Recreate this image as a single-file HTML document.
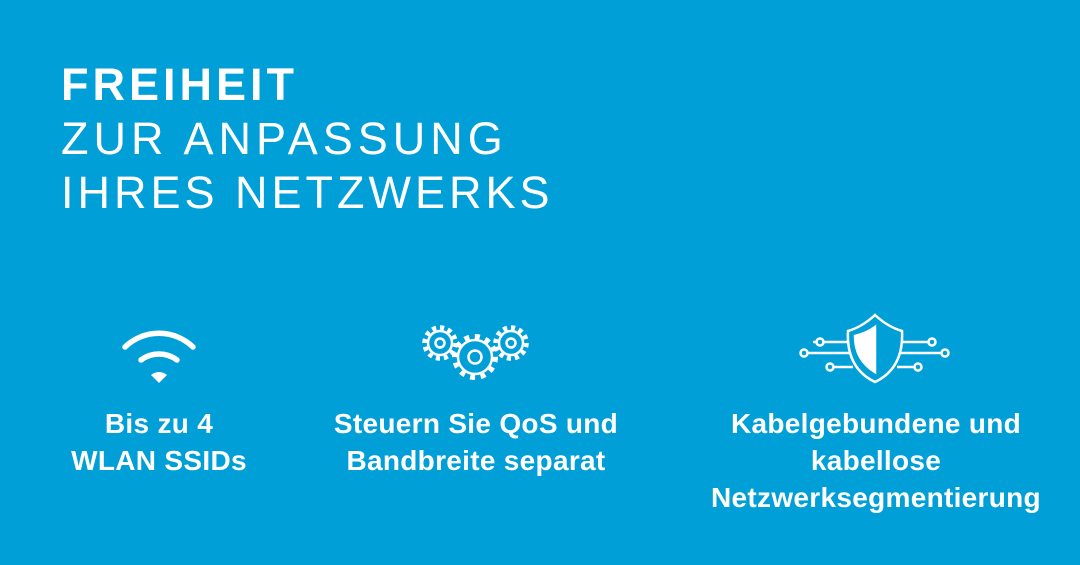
<!DOCTYPE html>
<html><head><meta charset="utf-8"><style>
body{margin:0;width:1080px;height:565px;background:#009fd8;overflow:hidden;position:relative;font-family:"Liberation Sans",sans-serif;color:#fff}
.t{position:absolute;left:61px;font-size:45px;letter-spacing:4.8px;line-height:1}
.l{position:absolute;font-weight:bold;font-size:28px;letter-spacing:0.3px;text-align:center;line-height:37px;width:400px}
</style></head><body>
<div class="t" style="top:62px;font-weight:bold;letter-spacing:4px">FREIHEIT</div>
<div class="t" style="top:116px;letter-spacing:5px">ZUR ANPASSUNG</div>
<div class="t" style="top:170px;letter-spacing:4px">IHRES NETZWERKS</div>
<div class="l" style="left:-41px;top:405px">Bis zu 4<br>WLAN SSIDs</div>
<div class="l" style="left:276px;top:405px">Steuern Sie QoS und<br>Bandbreite separat</div>
<div class="l" style="left:676px;top:405px">Kabelgebundene und<br>kabellose<br>Netzwerksegmentierung</div>
<svg width="1080" height="565" style="position:absolute;left:0;top:0" fill="none" stroke="#fff">
<path d="M125 347 A49 49 0 0 1 193 347" stroke-width="5.5" stroke-linecap="round"/>
<path d="M141 360 A30 30 0 0 1 177 360" stroke-width="5.5" stroke-linecap="round"/>
<path d="M159 383 L151 375 A12 12 0 0 1 167 375 Z" fill="#fff" stroke="none"/>
<g stroke-width="2.5">
<circle cx="440" cy="343" r="12"/><circle cx="440" cy="343" r="15.5" stroke-width="4.5" stroke-dasharray="4.2 3.9"/><circle cx="440" cy="343" r="4.5"/>
<circle cx="511" cy="343" r="12"/><circle cx="511" cy="343" r="15.5" stroke-width="4.5" stroke-dasharray="4.2 3.9"/><circle cx="511" cy="343" r="4.5"/>
<circle cx="475" cy="357" r="17" fill="#009fd8"/><circle cx="475" cy="357" r="20.5" stroke-width="5" stroke-dasharray="5 5.7"/><circle cx="475" cy="357" r="6.5"/>
</g>
<g stroke-width="2.5">
<path d="M875 315 Q862 327 848 331 Q846 368 875 382 Q904 368 902 331 Q888 327 875 315 Z"/>
<path d="M875 327 L875 372 Q855 360 855 336 Q867 333 875 327 Z" fill="#fff"/>
<line x1="813" y1="342" x2="848" y2="342"/><circle cx="820" cy="342" r="3.5" fill="#009fd8"/>
<line x1="808" y1="353" x2="849" y2="353"/><circle cx="804" cy="353" r="3.5"/>
<line x1="834" y1="367" x2="853" y2="367"/><circle cx="830" cy="367" r="3.5"/>
<line x1="902" y1="342" x2="928" y2="342"/><circle cx="932" cy="342" r="3.5"/>
<line x1="901" y1="353" x2="941" y2="353"/><circle cx="945" cy="353" r="3.5"/>
<line x1="897" y1="367" x2="914" y2="367"/><circle cx="918" cy="367" r="3.5"/>
</g>
</svg>
</body></html>
